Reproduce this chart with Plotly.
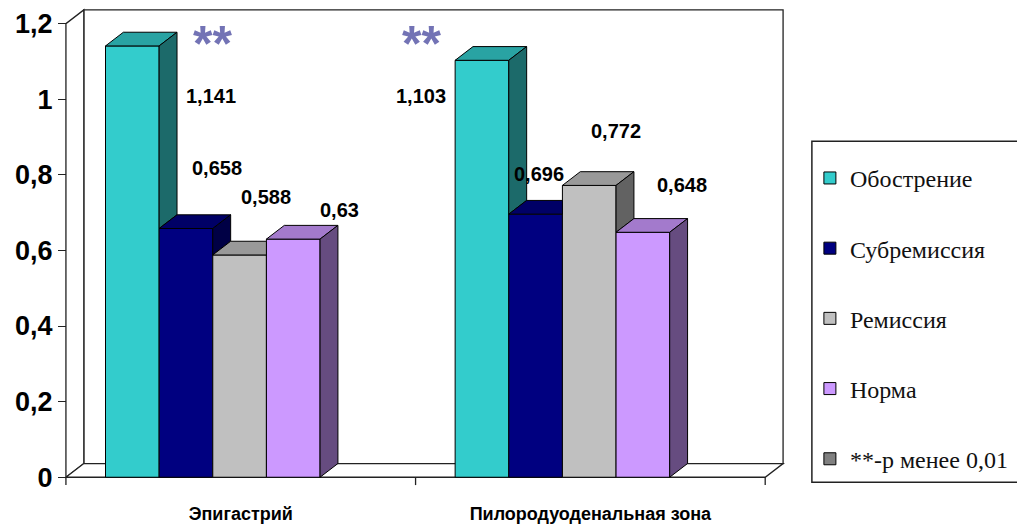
import numpy as np
import plotly.graph_objects as go

# ---------------- data ----------------
CATEGORIES = ["Эпигастрий", "Пилородуоденальная зона"]
SERIES = ["Обострение", "Субремиссия", "Ремиссия", "Норма"]
VAL_OBOSTRENIE = [1.141, 1.103]
VAL_SUBREMISSIYA = [0.658, 0.696]
VAL_REMISSIYA = [0.588, 0.772]
VAL_NORMA = [0.63, 0.648]
SIG_MARKS = ["**", "**"]
SIG_LEGEND = "**-p менее 0,01"
Y_TICKS = [0, 0.2, 0.4, 0.6, 0.8, 1.0, 1.2]
Y_TICK_LABELS = ["0", "0,2", "0,4", "0,6", "0,8", "1", "1,2"]

VALUES = [VAL_OBOSTRENIE, VAL_SUBREMISSIYA, VAL_REMISSIYA, VAL_NORMA]

# ---------------- styles ----------------
FRONT = ["#33CCCC", "#000080", "#C0C0C0", "#CC99FF"]
TOP = ["#29A3A3", "#000066", "#999999", "#A37ACC"]
SIDE = ["#1C6A6A", "#000045", "#626262", "#664C80"]
SIG_COLOR = "#808080"
STAR_COLOR = "#7373B5"
EDGE = "#000000"
SERIF = "Liberation Serif, Times New Roman, DejaVu Serif, serif"
SANS = "Liberation Sans, Arial, sans-serif"
# label offsets (px) relative to the top centre of each bar front face
LABEL_SHIFT = [
    [(79, -50), (-61, -36)],
    [(31, 61), (3, 40)],
    [(26, 58), (27, 54)],
    [(46, 29), (39, 47)],
]

W, H = 1017, 528
PX_X0, PX_Y0 = 66, 487          # pixel position of data origin
PX_PER_X, PX_PER_Y = 352.0, 385.8
PLOT_L, PLOT_R, PLOT_T, PLOT_B = 56, 800, 4, 499
DX = 18 / PX_PER_X               # 3-D depth offset
DY = 14 / PX_PER_Y
BW = 54 / PX_PER_X               # bar width
GROUP_POS = 0.42                 # group centre within its category slot
Y_TOP = max(Y_TICKS)
N = len(CATEGORIES)
NS = len(SERIES)


def px2paper_x(px):
    return (px - PLOT_L) / (PLOT_R - PLOT_L)


def px2paper_y(py):
    return (PLOT_B - py) / (PLOT_B - PLOT_T)


x_range = [(PLOT_L - PX_X0) / PX_PER_X, (PLOT_R - PX_X0) / PX_PER_X]
y_range = [(PX_Y0 - PLOT_B) / PX_PER_Y, (PX_Y0 - PLOT_T) / PX_PER_Y]

cat_idx = np.arange(N)
fig = go.Figure()

# front faces of the bars
for i, s in enumerate(SERIES):
    fig.add_trace(go.Bar(
        x=cat_idx + GROUP_POS, y=VALUES[i], width=BW,
        offset=-NS / 2 * BW + i * BW, name=s, legendgroup=s,
        marker=dict(color=FRONT[i], line=dict(color=EDGE, width=1)),
        hoverinfo="skip",
    ))

fig.add_trace(go.Bar(
    x=[None], y=[None], name=SIG_LEGEND, legendgroup="sig",
    marker=dict(color=SIG_COLOR, line=dict(color=EDGE, width=1)),
))


def poly(pts, color):
    xs = [p[0] for p in pts] + [pts[0][0]]
    ys = [p[1] for p in pts] + [pts[0][1]]
    fig.add_trace(go.Scatter(
        x=xs, y=ys, mode="lines", fill="toself", fillcolor=color,
        line=dict(color=EDGE, width=1), showlegend=False, hoverinfo="skip",
    ))


# top and side faces (visible parts only)
for c in range(N):
    for i in range(NS):
        L = c + GROUP_POS - NS / 2 * BW + i * BW
        R = L + BW
        v = VALUES[i][c]
        vn = VALUES[i + 1][c] if i < NS - 1 else None
        # top face
        if vn is None or vn <= v:
            top = [(L, v), (R, v), (R + DX, v + DY), (L + DX, v + DY)]
        elif vn >= v + DY:
            top = [(L, v), (R, v), (R, v + DY), (L + DX, v + DY)]
        else:
            xi = R + DX * (vn - v) / DY
            top = [(L, v), (R, v), (R, vn), (xi, vn), (R + DX, v + DY), (L + DX, v + DY)]
        poly(top, TOP[i])
        # side face
        if vn is None:
            side = [(R, 0), (R, v), (R + DX, v + DY), (R + DX, DY)]
        elif vn < v:
            side = [(R, vn), (R, v), (R + DX, v + DY), (R + DX, vn + DY)]
        else:
            side = None
        if side:
            poly(side, SIDE[i])

# walls, floor, axis lines
wall_line = dict(color="#222222", width=1.3)
shapes = [
    dict(type="rect", xref="x", yref="y", x0=DX, y0=DY, x1=N + DX, y1=Y_TOP + DY,
         fillcolor="white", line=wall_line, layer="below"),
    dict(type="path", xref="x", yref="y",
         path=f"M0,0 L0,{Y_TOP} L{DX},{Y_TOP + DY} L{DX},{DY} Z",
         fillcolor="white", line=wall_line, layer="below"),
    dict(type="path", xref="x", yref="y",
         path=f"M0,0 L{N},0 L{N + DX},{DY} L{DX},{DY} Z",
         fillcolor="white", line=wall_line, layer="below"),
]
for k in range(N + 1):
    shapes.append(dict(type="line", xref="x", yref="y", x0=k, x1=k, y0=0,
                       y1=-8 / PX_PER_Y, line=dict(color="#222222", width=1.3)))
# legend frame
shapes.append(dict(type="rect", xref="paper", yref="paper",
                   x0=px2paper_x(817), x1=px2paper_x(1040),
                   y0=px2paper_y(492), y1=px2paper_y(144),
                   line=dict(color="#222222", width=1.5), fillcolor="rgba(0,0,0,0)"))

# value labels and significance marks
ann = []
for i in range(NS):
    for c in range(N):
        L = c + GROUP_POS - NS / 2 * BW + i * BW
        v = VALUES[i][c]
        xs, ys = LABEL_SHIFT[i][c]
        ann.append(dict(x=L + BW / 2, y=v, xref="x", yref="y", xshift=xs, yshift=ys,
                        text=f"{v:g}".replace(".", ","), showarrow=False,
                        xanchor="center", yanchor="middle",
                        font=dict(family=SANS, size=20, color="black", weight="bold")))
for c in range(N):
    L = c + GROUP_POS - NS / 2 * BW
    xs, _ = LABEL_SHIFT[0][c]
    ann.append(dict(x=L + BW / 2, y=Y_TOP - 0.055, xref="x", yref="y", xshift=xs + 1,
                    text=SIG_MARKS[c], showarrow=False, xanchor="center", yanchor="middle",
                    font=dict(family=SANS, size=50, color=STAR_COLOR, weight="bold")))

fig.update_layout(
    width=W, height=H,
    margin=dict(l=PLOT_L, r=W - PLOT_R, t=PLOT_T, b=H - PLOT_B, pad=0),
    paper_bgcolor="white", plot_bgcolor="white",
    barmode="overlay", showlegend=True, hovermode=False,
    shapes=shapes, annotations=ann,
    xaxis=dict(range=x_range, showgrid=False, zeroline=False, showline=False,
               tickvals=list(cat_idx + 0.5), ticktext=CATEGORIES,
               ticks="outside", ticklen=8, tickcolor="rgba(0,0,0,0)",
               tickfont=dict(family=SANS, size=18, color="black", weight="bold")),
    yaxis=dict(range=y_range, showgrid=False, zeroline=False, showline=False,
               anchor="free", position=px2paper_x(PX_X0),
               tickvals=Y_TICKS, ticktext=Y_TICK_LABELS,
               ticks="outside", ticklen=8, tickwidth=1.3, tickcolor="#222222",
               tickfont=dict(family=SANS, size=27, color="black", weight="bold")),
    legend=dict(x=px2paper_x(815), y=px2paper_y(159), xanchor="left", yanchor="top",
                bgcolor="rgba(0,0,0,0)", borderwidth=0, tracegroupgap=36,
                traceorder="grouped",
                font=dict(family=SERIF, size=24, color="#111111")),
)

fig.write_html("out.html")
